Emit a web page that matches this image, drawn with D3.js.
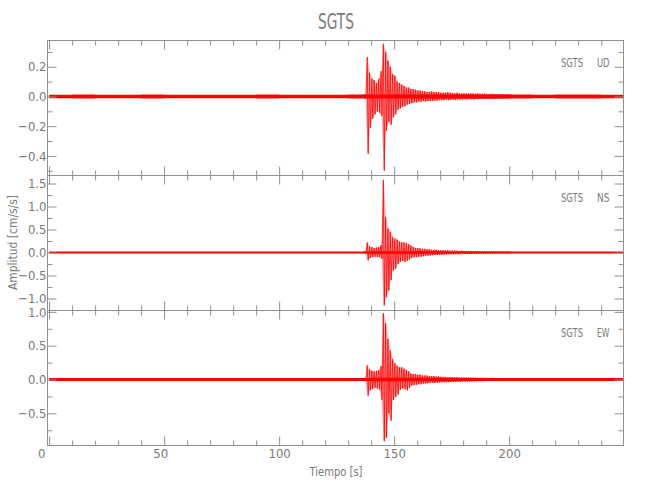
<!DOCTYPE html>
<html><head><meta charset="utf-8">
<script src="https://cdn.jsdelivr.net/npm/d3@7"></script>
<style>
body{margin:0;background:#fff;}
svg text{font-family:"Liberation Sans Narrow","DejaVu Sans Condensed","Liberation Sans",sans-serif;fill:#7a7a7a;}
</style></head><body>
<svg id="chart" width="650" height="500"></svg>
<script>
// ---------- DATA ----------
const chartTitle = "SGTS";
const station = "SGTS";
const components = ["UD", "NS", "EW"];
const xLabel = "Tiempo [s]";
const yLabel = "Amplitud [cm/s/s]";
const timeRange = [-0.7, 249.7];
const xMajorTicks = [0, 50, 100, 150, 200];
const udRange = [-0.532, 0.377];
const nsRange = [-1.26, 1.674];
const ewRange = [-0.975, 1.02];
const udTicks = [-0.4, -0.2, 0.0, 0.2];
const nsTicks = [-1.0, -0.5, 0.0, 0.5, 1.0, 1.5];
const ewTicks = [-0.5, 0.0, 0.5, 1.0];

// background noise half-amplitude, 10 s bins from 0 s to 250 s
const noiseBin = 10;
const udNoise = [0.012,0.013,0.012,0.012,0.013,0.012,0.012,0.012,0.012,0.013,0.012,0.012,0.012,0.013,0.014,0.014,0.014,0.013,0.013,0.013,0.013,0.012,0.013,0.013,0.012];
const nsNoise = [0.02,0.02,0.02,0.02,0.02,0.02,0.02,0.02,0.02,0.02,0.02,0.02,0.02,0.022,0.025,0.025,0.025,0.022,0.022,0.02,0.02,0.02,0.02,0.02,0.02];
const ewNoise = [0.022,0.022,0.022,0.022,0.022,0.022,0.022,0.022,0.022,0.022,0.022,0.022,0.022,0.022,0.025,0.025,0.025,0.024,0.022,0.022,0.022,0.022,0.022,0.022,0.022];

// event envelope (max / min per 1 s bin) from 136 s to 200 s
const eventStart = 136;
const udMax = [0.012,0.015,0.265,0.16,0.12,0.11,0.09,0.12,0.17,0.355,0.30,0.24,0.20,0.15,0.14,0.10,0.09,0.08,0.07,0.06,0.06,0.05,0.05,0.045,0.04,0.04,0.035,0.035,0.03,0.03,0.035,0.03,0.03,0.03,0.025,
  0.025,0.025,0.03,0.025,0.022,0.022,0.025,0.02,0.02,0.022,
  0.02,0.02,0.022,0.02,0.018,0.02,0.018,0.018,0.02,0.016,
  0.016,0.018,0.015,0.016,0.015,0.015,0.016,0.014,0.015,0.014];
const udMin = [-0.012,-0.015,-0.386,-0.21,-0.15,-0.12,-0.10,-0.11,-0.13,-0.50,-0.23,-0.17,-0.19,-0.14,-0.12,-0.09,-0.08,-0.07,-0.065,-0.055,-0.05,-0.045,-0.04,-0.04,-0.035,-0.035,-0.03,-0.035,-0.03,-0.03,-0.03,-0.028,-0.028,-0.025,-0.025,
  -0.025,-0.022,-0.025,-0.022,-0.02,-0.022,-0.02,-0.02,-0.02,-0.018,
  -0.02,-0.018,-0.018,-0.02,-0.017,-0.018,-0.016,-0.016,-0.017,-0.015,
  -0.015,-0.016,-0.015,-0.014,-0.015,-0.014,-0.014,-0.013,-0.014,-0.013];
const nsMax = [0.02,0.025,0.22,0.13,0.12,0.10,0.11,0.12,0.16,1.58,0.77,0.52,0.45,0.33,0.30,0.28,0.24,0.22,0.22,0.2,0.18,0.15,0.12,0.1,0.1,0.09,0.08,0.08,0.07,0.07,0.06,0.06,0.06,0.05,0.05,
  0.05,0.045,0.05,0.04,0.04,0.045,0.04,0.035,0.04,0.035,
  0.035,0.03,0.035,0.03,0.03,0.03,0.028,0.03,0.028,0.025,
  0.025,0.025,0.025,0.022,0.025,0.022,0.022,0.02,0.022,0.02];
const nsMin = [-0.02,-0.025,-0.17,-0.12,-0.10,-0.09,-0.1,-0.1,-0.14,-1.15,-0.97,-0.83,-0.6,-0.39,-0.35,-0.25,-0.2,-0.18,-0.2,-0.18,-0.15,-0.12,-0.1,-0.1,-0.09,-0.09,-0.08,-0.07,-0.07,-0.065,-0.06,-0.055,-0.05,-0.05,-0.05,
  -0.045,-0.045,-0.04,-0.04,-0.04,-0.035,-0.04,-0.035,-0.035,-0.03,
  -0.03,-0.03,-0.03,-0.028,-0.03,-0.028,-0.025,-0.025,-0.025,-0.025,
  -0.022,-0.025,-0.022,-0.022,-0.02,-0.022,-0.02,-0.02,-0.02,-0.02];
const ewMax = [0.02,0.025,0.21,0.15,0.13,0.12,0.13,0.14,0.2,0.98,0.83,0.6,0.43,0.3,0.24,0.2,0.18,0.18,0.16,0.14,0.12,0.09,0.08,0.08,0.07,0.07,0.06,0.06,0.06,0.05,0.05,0.05,0.045,0.045,0.04,
  0.04,0.04,0.035,0.04,0.035,0.035,0.035,0.03,0.03,0.03,
  0.03,0.03,0.028,0.03,0.028,0.025,0.025,0.025,0.025,0.025,
  0.022,0.025,0.022,0.022,0.02,0.022,0.02,0.02,0.02,0.02];
const ewMin = [-0.02,-0.025,-0.24,-0.16,-0.14,-0.12,-0.13,-0.15,-0.3,-0.91,-0.86,-0.5,-0.61,-0.3,-0.26,-0.22,-0.15,-0.13,-0.14,-0.16,-0.12,-0.09,-0.08,-0.08,-0.07,
  -0.07,-0.06,-0.06,-0.055,-0.05,-0.05,-0.05,-0.045,-0.045,-0.04,
  -0.04,-0.04,-0.04,-0.035,-0.035,-0.035,-0.03,-0.03,-0.03,-0.03,
  -0.03,-0.028,-0.028,-0.028,-0.025,-0.025,-0.025,-0.025,-0.022,-0.022,
  -0.022,-0.022,-0.02,-0.02,-0.02,-0.02,-0.02,-0.02,-0.018,-0.018];

// ---------- DRAWING ----------
const panels = [
  {comp: components[0], range: udRange, ticks: udTicks, minorStep: 0.1, noise: udNoise, max: udMax, min: udMin},
  {comp: components[1], range: nsRange, ticks: nsTicks, minorStep: 0.25, noise: nsNoise, max: nsMax, min: nsMin},
  {comp: components[2], range: ewRange, ticks: ewTicks, minorStep: 0.25, noise: ewNoise, max: ewMax, min: ewMin}
];
const L = 47.5, R = 623.5, T = 40.5, PH = 135;
const axisColor = "#909090";
const svg = d3.select("#chart");
const x = d3.scaleLinear().domain(timeRange).range([L, R]);
const xMinor = d3.range(0, 250, 10).filter(v => !xMajorTicks.includes(v));
const fmt = d3.format(".1f");

function styleAxis(g) {
  g.select(".domain").remove();
  g.selectAll(".tick line").attr("stroke", axisColor);
  g.selectAll(".tick text").attr("font-size", 13).attr("fill", "#7a7a7a");
}

panels.forEach((p, i) => {
  const top = T + i * PH, bot = top + PH;
  const y = d3.scaleLinear().domain(p.range).range([bot, top]);
  const minor = d3.range(Math.ceil(p.range[0] / p.minorStep) * p.minorStep, p.range[1], p.minorStep)
    .map(v => +v.toFixed(3)).filter(v => !p.ticks.some(t => Math.abs(t - v) < 1e-6));

  const clipId = "clip" + i;
  svg.append("clipPath").attr("id", clipId).append("rect")
    .attr("x", L).attr("y", top).attr("width", R - L).attr("height", PH);
  const tg = svg.append("g").attr("clip-path", `url(#${clipId})`);

  // noise band
  const band = p.noise.map((a, k) => ({t: k * noiseBin, a}));
  band.push({t: p.noise.length * noiseBin, a: p.noise[p.noise.length - 1]});
  tg.append("path").datum(band)
    .attr("fill", "#ff0000")
    .attr("d", d3.area().curve(d3.curveStepAfter).x(d => x(d.t)).y0(d => y(-d.a)).y1(d => y(d.a)));

  // event envelope (translucent fill) + trace (max/min per bin)
  const env = p.max.map((m, k) => ({t: eventStart + k + 0.5, hi: m, lo: p.min[k]}));
  tg.append("path").datum(env)
    .attr("fill", "#ff0000").attr("fill-opacity", 0.3)
    .attr("d", d3.area().x(d => x(d.t)).y0(d => y(d.lo)).y1(d => y(d.hi)));
  const pts = [];
  p.max.forEach((m, k) => {
    pts.push([eventStart + k + 0.3, m]);
    pts.push([eventStart + k + 0.7, p.min[k]]);
  });
  tg.append("path").datum(pts)
    .attr("fill", "none").attr("stroke", "#ff0000").attr("stroke-width", 0.8)
    .attr("d", d3.line().x(d => x(d[0])).y(d => y(d[1])));

  // frame
  svg.append("rect").attr("x", L).attr("y", top).attr("width", R - L).attr("height", PH)
    .attr("fill", "none").attr("stroke", axisColor).attr("stroke-width", 1);

  // y axes
  svg.append("g").attr("transform", `translate(${L},0)`)
    .call(d3.axisLeft(y).tickValues(p.ticks).tickSize(-9).tickPadding(1).tickFormat(fmt)).call(styleAxis);
  svg.append("g").attr("transform", `translate(${L},0)`)
    .call(d3.axisLeft(y).tickValues(minor).tickSize(-5).tickFormat("")).call(styleAxis);
  svg.append("g").attr("transform", `translate(${R},0)`)
    .call(d3.axisRight(y).tickValues(p.ticks).tickSize(-9).tickFormat("")).call(styleAxis);
  svg.append("g").attr("transform", `translate(${R},0)`)
    .call(d3.axisRight(y).tickValues(minor).tickSize(-5).tickFormat("")).call(styleAxis);

  // x axes
  svg.append("g").attr("transform", `translate(0,${top})`)
    .call(d3.axisTop(x).tickValues(xMajorTicks).tickSize(-9).tickFormat("")).call(styleAxis);
  svg.append("g").attr("transform", `translate(0,${top})`)
    .call(d3.axisTop(x).tickValues(xMinor).tickSize(-5).tickFormat("")).call(styleAxis);
  const bx = svg.append("g").attr("transform", `translate(0,${bot})`)
    .call(d3.axisBottom(x).tickValues(xMajorTicks).tickSize(-9).tickPadding(3)
      .tickFormat(i === panels.length - 1 ? d3.format("d") : "")).call(styleAxis);
  bx.selectAll(".tick text").attr("dx", d => -(3 - String(d).length) * 4);
  svg.append("g").attr("transform", `translate(0,${bot})`)
    .call(d3.axisBottom(x).tickValues(xMinor).tickSize(-5).tickFormat("")).call(styleAxis);

  // station / component label
  svg.append("text").attr("x", 561).attr("y", top + 26).attr("font-size", 13)
    .attr("textLength", 22).attr("lengthAdjust", "spacingAndGlyphs").text(station);
  svg.append("text").attr("x", 597).attr("y", top + 26).attr("font-size", 13)
    .attr("textLength", 12.5).attr("lengthAdjust", "spacingAndGlyphs").text(p.comp);
});

// titles
svg.append("text").attr("x", 336).attr("y", 29).attr("text-anchor", "middle").attr("font-size", 21)
  .attr("textLength", 36).attr("lengthAdjust", "spacingAndGlyphs").text(chartTitle);
svg.append("text").attr("x", 336).attr("y", 476).attr("text-anchor", "middle").attr("font-size", 13)
  .attr("textLength", 53).attr("lengthAdjust", "spacingAndGlyphs").text(xLabel);
svg.append("text").attr("transform", "translate(17,242.5) rotate(-90)").attr("text-anchor", "middle")
  .attr("font-size", 13).attr("textLength", 95).attr("lengthAdjust", "spacingAndGlyphs").text(yLabel);
</script>
</body></html>
